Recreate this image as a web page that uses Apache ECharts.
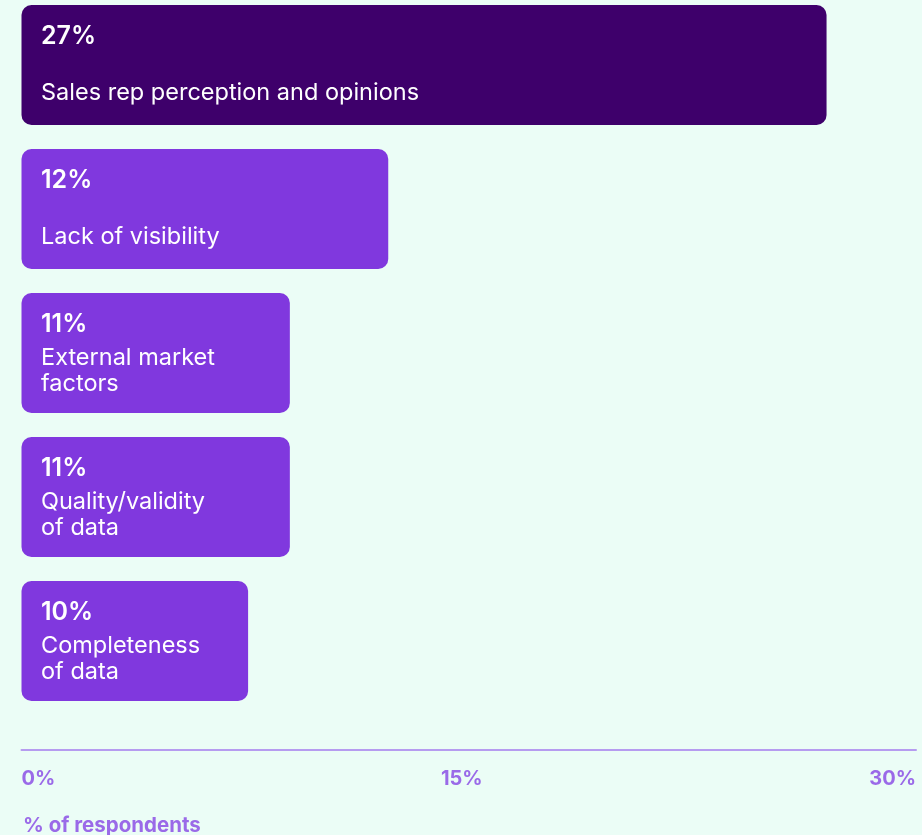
<!DOCTYPE html>
<html>
<head>
<meta charset="utf-8">
<script src="https://cdn.jsdelivr.net/npm/echarts@6/dist/echarts.min.js"></script>
<style>
  html, body { margin: 0; padding: 0; background: #ebfdf6; overflow: hidden; }
  /* shifted up 7px so the first band can start above the page edge */
  #chart { position: absolute; left: 0; top: -7px; width: 922px; height: 842px; }
</style>
</head>
<body>
<div id="chart"></div>
<script>
// categories top to bottom
var categories = [
  'Sales rep perception and opinions',
  'Lack of visibility',
  'External market\nfactors',
  'Quality/validity\nof data',
  'Completeness\nof data'
];
// printed shares (%)
var shares = [27, 12, 11, 11, 10];
// bar lengths as drawn, read against the 0-30% axis
var barLengths = [27, 12.3, 9, 9, 7.6];
var barColors = ['#3e006b', '#8038de', '#8038de', '#8038de', '#8038de'];
var ticks = [0, 15, 30];

var chart = echarts.init(document.getElementById('chart'));

var data = barLengths.map(function (v, i) {
  return { value: v, itemStyle: { color: barColors[i] } };
});

var option = {
  backgroundColor: '#ebfdf6',
  textStyle: { fontFamily: 'Inter' },
  title: {
    text: '% of respondents',
    left: 23,
    top: 822,
    padding: 0,
    textStyle: { fontFamily: 'Inter', fontSize: 20.5, fontWeight: 700, color: '#9a6ae8' }
  },
  grid: { left: 21.5, right: 6, top: 0, bottom: 122 },
  xAxis: {
    type: 'value',
    min: ticks[0],
    max: ticks[ticks.length - 1],
    interval: 15,
    offset: 37,
    axisLine: { show: true, lineStyle: { color: '#b69cf0', width: 2 } },
    axisTick: { show: false },
    splitLine: { show: false },
    axisLabel: {
      margin: 19,
      color: '#9a6ae8',
      fontFamily: 'Inter',
      fontSize: 20,
      fontWeight: 700,
      alignMinLabel: 'left',
      alignMaxLabel: 'right',
      formatter: function (v) {
        // middle label sits a little left of its tick in the original
        if (v === ticks[1]) return '{m|' + v + '%}';
        return v + '%';
      },
      rich: {
        m: { fontFamily: 'Inter', fontSize: 20, fontWeight: 700, color: '#9a6ae8', padding: [0, 14, 0, 0] }
      }
    }
  },
  yAxis: {
    type: 'category',
    inverse: true,
    data: categories,
    show: false
  },
  series: [{
    type: 'bar',
    data: data,
    barWidth: 120,
    itemStyle: { borderRadius: 10 },
    label: {
      show: true,
      position: [19.5, 11],
      color: '#ffffff',
      lineHeight: 26,
      formatter: function (p) {
        var lines = categories[p.dataIndex].split('\n');
        var head = '{p|' + shares[p.dataIndex] + '%}\n';
        if (lines.length === 1) head += '{b| }\n';
        return head + lines.map(function (l) {
          return '{c|' + l + '}';
        }).join('\n');
      },
      rich: {
        p: { fontFamily: 'Inter', fontSize: 25, fontWeight: 600, lineHeight: 41, color: '#ffffff' },
        b: { fontFamily: 'Inter', fontSize: 12, lineHeight: 23 },
        c: { fontFamily: 'Inter', fontSize: 23.5, fontWeight: 400, lineHeight: 26, color: '#ffffff' }
      }
    }
  }]
};

chart.setOption(option);
</script>
</body>
</html>
